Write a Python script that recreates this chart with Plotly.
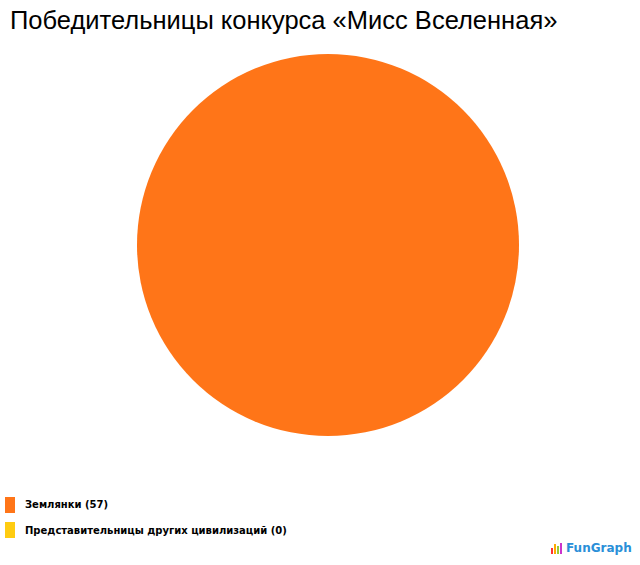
import plotly.graph_objects as go

labels = ["Землянки", "Представительницы других цивилизаций"]
values = [57, 0]
colors = ["#FF7518", "#FFCC11"]
title = "Победительницы конкурса «Мисс Вселенная»"

W, H = 640, 565
fig = go.Figure()
fig.add_trace(go.Pie(
    labels=labels, values=values, marker=dict(colors=colors, line=dict(width=0)),
    textinfo="none", sort=False, showlegend=False, hoverinfo="label+value",
    domain=dict(x=[137 / W, 519 / W], y=[1 - 436 / H, 1 - 54 / H]),
))

shapes, annotations = [], []
for i, (lab, val, col) in enumerate(zip(labels, values, colors)):
    yc = 505 + i * 25
    shapes.append(dict(type="rect", xref="paper", yref="paper",
                       x0=5 / W, x1=15 / W, y0=1 - (yc + 8) / H, y1=1 - (yc - 8) / H,
                       fillcolor=col, line=dict(width=0)))
    annotations.append(dict(xref="paper", yref="paper", x=23 / W, y=1 - yc / H,
                            xanchor="left", yanchor="middle", showarrow=False,
                            text=f"<b>{lab} ({val})</b>",
                            font=dict(family="DejaVu Sans", size=10, color="#000000")))

annotations.append(dict(xref="paper", yref="paper", x=8 / W, y=1 - 20 / H,
                        xanchor="left", yanchor="middle", showarrow=False, text=title,
                        font=dict(family="Liberation Sans", size=25.5, color="#000000")))
annotations.append(dict(xref="paper", yref="paper", x=634 / W, y=1 - 548 / H,
                        xanchor="right", yanchor="middle", showarrow=False,
                        text="<b>FunGraph</b>",
                        font=dict(family="DejaVu Sans", size=12, color="#2a8fd8")))
bar_cols = ["#ff3333", "#ffaa00", "#99cc33", "#cc33cc"]
bar_h = [6, 10, 8, 11]
for j, (bc, bh) in enumerate(zip(bar_cols, bar_h)):
    shapes.append(dict(type="rect", xref="paper", yref="paper",
                       x0=(551 + j * 3) / W, x1=(553 + j * 3) / W,
                       y0=1 - 554 / H, y1=1 - (554 - bh) / H,
                       fillcolor=bc, line=dict(width=0)))

fig.update_layout(width=W, height=H, margin=dict(l=0, r=0, t=0, b=0),
                  paper_bgcolor="white", plot_bgcolor="white",
                  shapes=shapes, annotations=annotations)
fig.write_html("out.html", config={"displayModeBar": False},
               post_script="document.body.style.margin='0';document.body.style.overflow='hidden';")
